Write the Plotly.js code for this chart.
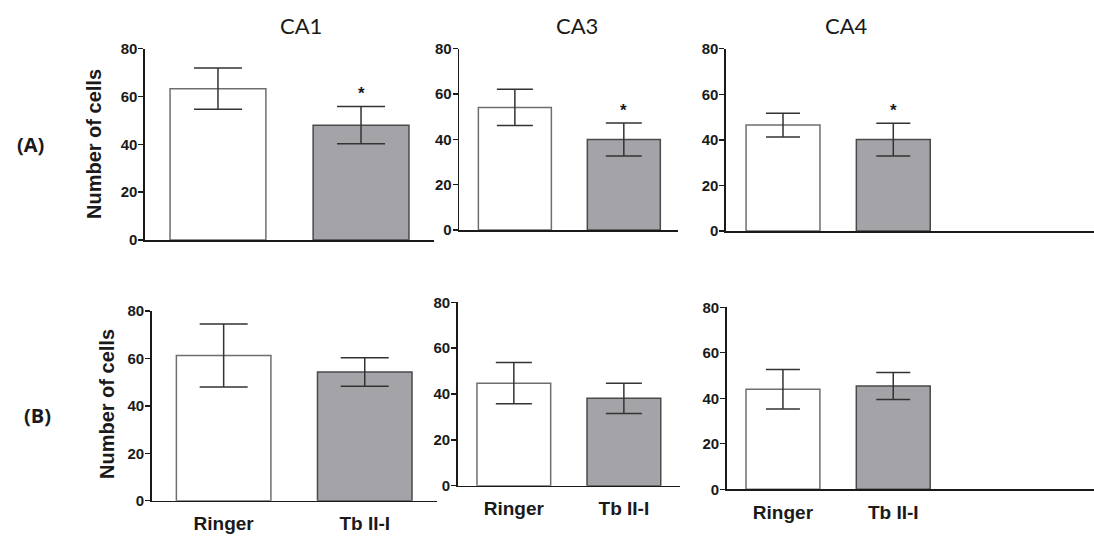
<!DOCTYPE html>
<html>
<head>
<meta charset="utf-8">
<script src="https://cdn.plot.ly/plotly-3.0.1.min.js"></script>
<style>html,body{margin:0;padding:0;background:#fff;}#chart{width:1094px;height:541px;}</style>
</head>
<body>
<div id="chart"></div>
<script>
// ---- data ----
const groups = ['Ringer', 'Tb II-I'];
const regions = ['CA1', 'CA3', 'CA4'];
const rowLabels = ['(A)', '(B)'];
const yTitle = 'Number of cells';
const yTicks = [0, 20, 40, 60, 80];

const ca1A_mean = [63.3, 48.0];
const ca1A_err  = [8.6, 7.8];
const ca3A_mean = [54.1, 39.9];
const ca3A_err  = [8.0, 7.3];
const ca4A_mean = [46.5, 40.1];
const ca4A_err  = [5.2, 7.2];

const ca1B_mean = [61.2, 54.3];
const ca1B_err  = [13.3, 6.0];
const ca3B_mean = [44.7, 38.1];
const ca3B_err  = [9.0, 6.6];
const ca4B_mean = [44.0, 45.4];
const ca4B_err  = [8.7, 5.9];

const sigA = [false, true];
const sigB = [false, false];

// ---- layout helpers ----
const W = 1094, H = 541;
const barColors = ['#ffffff', '#a4a3a8'];
const barLines = ['#6e6e6e', '#4a4a4a'];
const px = v => v / W;
const py = v => 1 - v / H;
const FONT = 'Liberation Sans, Arial, sans-serif';

const panels = [
  {mean: ca1A_mean, err: ca1A_err, sig: sigA, x0: 145, x1: 434, y0: 48.7, y1: 240, range: [-0.51, 1.51], cap: 24, ytitle: [94, 144], xlabels: false},
  {mean: ca3A_mean, err: ca3A_err, sig: sigA, x0: 459.3, x1: 678.3, y0: 48.7, y1: 230, range: [-0.51, 1.50], cap: 18, ytitle: null, xlabels: false},
  {mean: ca4A_mean, err: ca4A_err, sig: sigA, x0: 726, x1: 1094, y0: 48.7, y1: 231, range: [-0.517, 2.82], cap: 17, ytitle: null, xlabels: false},
  {mean: ca1B_mean, err: ca1B_err, sig: sigB, x0: 151.7, x1: 436.7, y0: 311, y1: 500.7, range: [-0.51, 1.51], cap: 24, ytitle: [107, 404], xlabels: true},
  {mean: ca3B_mean, err: ca3B_err, sig: sigB, x0: 457.7, x1: 680, y0: 302.3, y1: 485.7, range: [-0.51, 1.51], cap: 18, ytitle: null, xlabels: true},
  {mean: ca4B_mean, err: ca4B_err, sig: sigB, x0: 726.7, x1: 1094, y0: 307.3, y1: 489.3, range: [-0.51, 2.82], cap: 17, ytitle: null, xlabels: true}
];

const traces = [];
const layout = {
  width: W, height: H,
  margin: {l: 0, r: 0, t: 0, b: 0},
  paper_bgcolor: '#ffffff', plot_bgcolor: 'rgba(0,0,0,0)',
  showlegend: false,
  annotations: [],
  font: {family: FONT, color: '#1a1a1a'}
};

panels.forEach((p, i) => {
  const n = i === 0 ? '' : String(i + 1);
  const xa = 'x' + n, ya = 'y' + n;
  const xs = groups.map((g, k) => k);
  traces.push({
    type: 'bar', x: xs, y: p.mean, width: 0.67,
    xaxis: xa, yaxis: ya,
    marker: {color: barColors, line: {color: barLines, width: 1.5}},
    error_y: {type: 'data', array: p.err, visible: true, color: '#333333', thickness: 1.5, width: p.cap},
    hoverinfo: 'y'
  });
  layout['xaxis' + n] = {
    domain: [px(p.x0), px(p.x1)], anchor: ya, range: p.range, fixedrange: true,
    showline: true, linecolor: '#1a1a1a', linewidth: 1.6, showgrid: false, zeroline: false,
    ticks: '', tickvals: xs, ticktext: groups, showticklabels: p.xlabels,
    ticklabelstandoff: 5,
    tickfont: {family: FONT, size: 19, weight: 'bold', color: '#1a1a1a'}
  };
  layout['yaxis' + n] = {
    domain: [py(p.y1), py(p.y0)], anchor: xa, range: [0, 80], fixedrange: true,
    showline: true, linecolor: '#1a1a1a', linewidth: 1.6, showgrid: false, zeroline: false,
    ticks: 'outside', ticklen: 5, tickwidth: 1.4, tickcolor: '#1a1a1a', tickvals: yTicks,
    ticklabelstandoff: -2,
    tickfont: {family: FONT, size: 15, weight: 'bold', color: '#1a1a1a'}
  };
  if (p.ytitle) {
    layout.annotations.push({
      text: yTitle, xref: 'paper', yref: 'paper', x: px(p.ytitle[0]), y: py(p.ytitle[1]),
      xanchor: 'center', yanchor: 'middle', textangle: -90, showarrow: false,
      font: {family: FONT, size: 20, weight: 'bold', color: '#1a1a1a'}
    });
  }
  p.sig.forEach((s, k) => {
    if (s) {
      layout.annotations.push({
        text: '*', xref: xa, yref: ya, x: k, y: p.mean[k] + p.err[k] + 0.5,
        yanchor: 'bottom', showarrow: false,
        font: {family: FONT, size: 17, weight: 'bold', color: '#1a1a1a'}
      });
    }
  });
});

// panel titles
const titleX = [301, 577, 846];
regions.forEach((r, k) => {
  layout.annotations.push({
    text: r, xref: 'paper', yref: 'paper', x: px(titleX[k]), y: py(25),
    xanchor: 'center', yanchor: 'middle', showarrow: false,
    font: {family: 'Lato, Open Sans, sans-serif', size: 22, color: '#1a1a1a'}
  });
});
// row labels
const rowPos = [[30, 144], [37, 415]];
rowLabels.forEach((r, k) => {
  layout.annotations.push({
    text: r, xref: 'paper', yref: 'paper', x: px(rowPos[k][0]), y: py(rowPos[k][1]),
    xanchor: 'center', yanchor: 'middle', showarrow: false,
    font: {family: 'Open Sans, sans-serif', size: 20, weight: 'bold', color: '#1a1a1a'}
  });
});

Plotly.newPlot('chart', traces, layout, {displayModeBar: false, staticPlot: true});
</script>
</body>
</html>
